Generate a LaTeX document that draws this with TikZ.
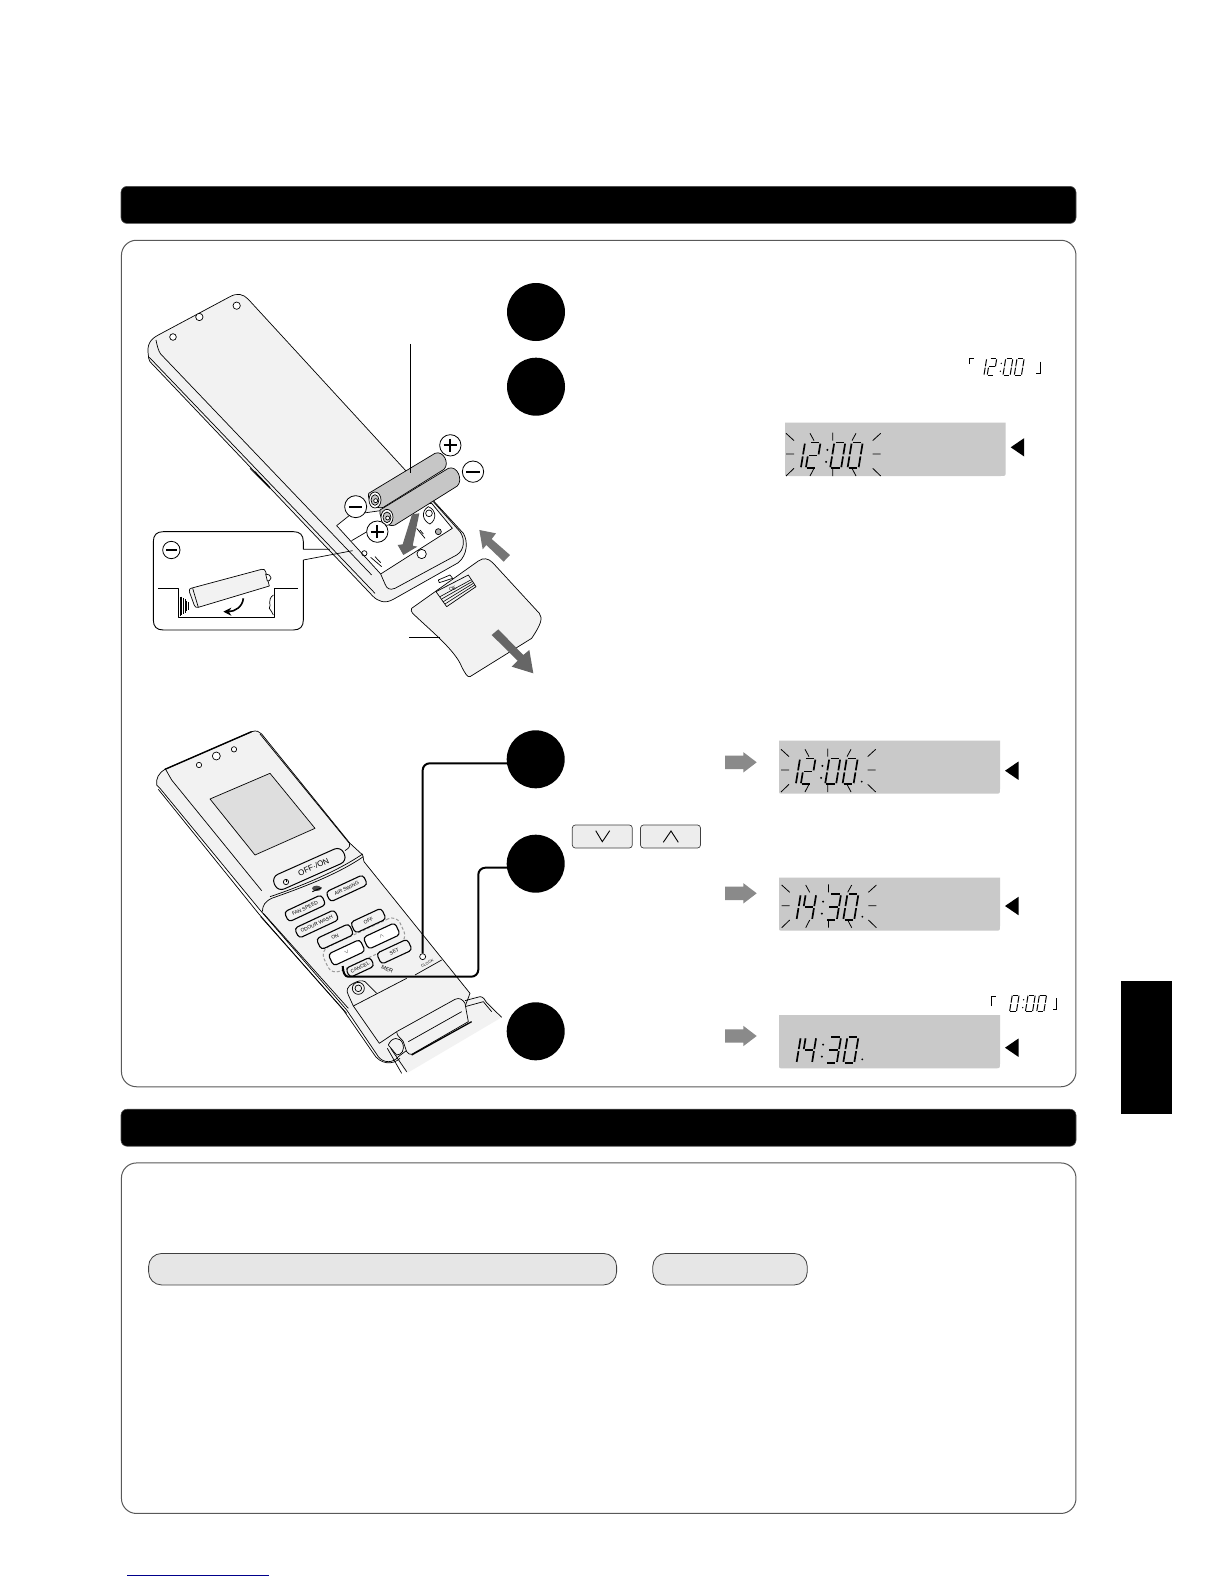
\documentclass[tikz,border=0pt]{standalone}
\usepackage{fontspec}
\usetikzlibrary{arrows.meta}
\setmainfont{Liberation Sans}
\definecolor{lcdbg}{HTML}{C9C9C9}
\definecolor{bodyg}{HTML}{F2F2F2}
\definecolor{darrow}{HTML}{666666}
\definecolor{garrow}{HTML}{8A8A8A}
\definecolor{batg}{HTML}{C6C6C6}
\definecolor{pillg}{HTML}{E6E6E6}
\definecolor{linkblue}{HTML}{00008B}
\tikzset{
  panelbox/.style={draw=black!65,line width=1pt,fill=white,rounded corners=15pt},
  blackbar/.style={fill=black,draw=black!70,line width=.6pt,rounded corners=6pt},
  pillbox/.style={draw=black!75,line width=.8pt,fill=pillg,rounded corners=13pt},
  stepdot/.style={circle,fill=black,minimum size=58pt,inner sep=0pt},
  thin line/.style={line width=.6pt,draw=black},
  body line/.style={line width=.7pt,draw=black,line join=round},
  connector/.style={line width=2pt,draw=black,rounded corners=7pt},
  rmtbtn/.style={draw=black,line width=1.1pt,fill=bodyg,rounded corners=3.5pt,inner sep=0pt,minimum height=11pt,font=\fontsize{5}{5}\selectfont,rotate=25},
  keybtn/.style={draw=black!75,line width=.7pt,fill=black!7,rounded corners=3pt,minimum width=60pt,minimum height=23pt,inner sep=0pt},
  lcdseg/.style={line width=#1,draw=black,line cap=butt},
  lcdseg/.default=1.4pt
}
% seven-segment pieces
\newcommand{\SgA}{\draw[lcdseg=\LW] (.12,0)--(.88,0);}
\newcommand{\SgB}{\draw[lcdseg=\LW] (1,.04)--(1,.46);}
\newcommand{\SgC}{\draw[lcdseg=\LW] (1,.54)--(1,.96);}
\newcommand{\SgD}{\draw[lcdseg=\LW] (.12,1)--(.88,1);}
\newcommand{\SgE}{\draw[lcdseg=\LW] (0,.54)--(0,.96);}
\newcommand{\SgF}{\draw[lcdseg=\LW] (0,.04)--(0,.46);}
\newcommand{\SgG}{\draw[lcdseg=\LW] (.12,.5)--(.88,.5);}
\newcommand{\DgZero}{\SgA\SgB\SgC\SgD\SgE\SgF}
\newcommand{\DgOne}{\SgB\SgC}
\newcommand{\DgTwo}{\SgA\SgB\SgG\SgE\SgD}
\newcommand{\DgThree}{\SgA\SgB\SgG\SgC\SgD}
\newcommand{\DgFour}{\SgF\SgG\SgB\SgC}
\newcommand{\DgNone}{}
% one digit at offset #1 (width #2)
\newcommand{\OneDg}[3]{\begin{scope}[shift={(#1,9.3)},x={(#2pt,0pt)},y={(-4.2pt,-25.6pt)}]#3\end{scope}}
% \TimeLCD{ox}{oy}{scale}{linewidth}{d1}{d2}{d3}{d4}
\newcommand{\TimeLCD}[8]{\begin{scope}[shift={(#1,#2)},scale=#3]
  \def\LW{#4}
  \OneDg{9}{10}{#5}
  \OneDg{24}{10.5}{#6}
  \OneDg{48.3}{11}{#7}
  \OneDg{65.7}{11}{#8}
  \fill (41.4,16.6) circle [radius=1.1];
  \fill (40.1,28.6) circle [radius=1.1];
\end{scope}}
\newcommand{\Rays}[2]{\begin{scope}[shift={(#1,#2)}]
  \draw[line width=.8pt]
   (0,0)--(8,7.3) (24,0)--(28,7.3) (46.7,-.7)--(46.7,7.3) (70,0)--(66,7.3) (94.7,0)--(86.7,7.3)
   (0,20.7)--(8,20.7) (86.7,20.7)--(94.7,20.7)
   (0,42.7)--(8,35) (24,42.7)--(28,35) (46.7,35)--(46.7,42.7) (66,35)--(70,42.7) (86.7,35)--(94.7,42.7);
\end{scope}}
\newcommand{\LCDbox}[4]{\fill[lcdbg] (#1,#2) -- (#3,#2) -- ({#3},{#4-5}) .. controls ({#3},{#4}) .. ({#3-5},{#4}) -- ({#1+4},{#4}) .. controls ({#1},{#4}) .. ({#1},{#4-4}) -- cycle;}
\newcommand{\GArrow}[1]{\fill[garrow] (725,{#1-6.7}) -- (743.3,{#1-6.7}) -- (743.3,{#1-10.2}) -- (756.7,{#1}) -- (743.3,{#1+10.2}) -- (743.3,{#1+6.7}) -- (725,{#1+6.7}) -- cycle;}
\newcommand{\BlkTri}[2]{\fill (#1,#2) -- ({#1+13.5},{#2-9.2}) -- ({#1+13.5},{#2+9.2}) -- cycle;}
% plus / minus badges, given in zoom units
\newcommand{\MinusMark}[3]{\draw[line width=.8pt,fill=white] (#1,#2) circle [radius=#3];\draw[line width=2pt] ({#1-#3*.62},#2) -- ({#1+#3*.62},#2);}
\newcommand{\PlusMark}[3]{\draw[line width=.8pt,fill=white] (#1,#2) circle [radius=#3];\draw[line width=2pt] ({#1-#3*.62},#2) -- ({#1+#3*.62},#2) (#1,{#2-#3*.62}) -- (#1,{#2+#3*.62});}
\begin{document}
\begin{tikzpicture}[x=1pt,y=-1pt]
\useasboundingbox (0,0) rectangle (1224,1584);
\fill[white] (0,0) rectangle (1224,1584);

% panels and bars
\node[blackbar,minimum width=955pt,minimum height=37pt,inner sep=0pt] (bartop) at (598.5,204.9) {};
\node[blackbar,minimum width=955pt,minimum height=37pt,inner sep=0pt] (barlow) at (598.5,1127.7) {};
\node[panelbox,minimum width=954.5pt,minimum height=846.5pt,inner sep=0pt] (panelone) at (598.7,663.5) {};
\node[panelbox,minimum width=954.5pt,minimum height=350.5pt,inner sep=0pt] (paneltwo) at (598.7,1338.2) {};
\node[pillbox,minimum width=468pt,minimum height=31.5pt,inner sep=0pt] (pilla) at (382.6,1269.2) {};
\node[pillbox,minimum width=154.5pt,minimum height=31.5pt,inner sep=0pt] (pillb) at (730,1269.2) {};
\fill[black] (1120.5,980.6) rectangle (1171.5,1113.5);
\draw[linkblue,line width=.9pt] (127,1575.3) -- (269,1575.3);

%================= REMOTE, BACK (coords = zoom 1) =================
\begin{scope}[x=.33333pt,y=-.33333pt,shift={(390,840)}]
 % body
 \draw[body line,fill=bodyg] (55,225) .. controls (50,195) and (60,178) .. (85,165) -- (300,50)
   .. controls (322,38) and (340,42) .. (355,58) -- (1000,760)
   .. controls (1015,785) and (1012,825) .. (985,848) -- (790,958)
   .. controls (765,972) and (745,965) .. (728,948) -- (60,245) .. controls (56,238) and (55,232) .. (55,225) -- cycle;
 \draw[body line] (58,232) -- (735,940);
 \draw[body line] (78,180) .. controls (82,200) and (85,212) .. (92,222) -- (725,885);
 \draw[body line] (360,565) -- (420,625) (375,575) -- (420,622);
 \draw[body line,fill=white] (129,171) circle [radius=10];
 \draw[body line,fill=white] (208,111) circle [radius=11];
 \draw[body line,fill=white] (320,77) circle [radius=11];
 % compartment
 \draw[body line,fill=white] (620,737) -- (660,705) -- (905,670) -- (967,745) -- (752,882) -- cycle;
 \draw[body line] (665,782) -- (745,735);
 \draw[body line] (910,665) -- (990,755) .. controls (1005,775) and (1005,810) .. (980,825) -- (795,925)
    .. controls (778,932) and (770,925) .. (765,912) -- (752,882);
 \draw[body line,fill=white] (875,822) circle [radius=14];
 \draw[body line] (703,820) circle [radius=8];
 \draw[body line] (722,832) -- (755,860) (735,830) -- (752,848);
 \draw[body line,fill=black!30] (925,755) circle [radius=9];
 \draw[body line,fill=white] (895,680) .. controls (870,695) and (880,725) .. (900,732) .. controls (920,720) and (920,690) .. (895,680) -- cycle;
 \draw[body line] (897,700) circle [radius=10];
 \draw[body line] (860,745) -- (885,775) (870,750) -- (880,762);
 % leader to batteries
 \draw[thin line] (841,192) -- (841,578);
 % batteries
 \draw[body line,fill=batg] (716,640) -- (915,520) .. controls (940,510) and (960,550) .. (942,568) -- (760,682) .. controls (740,690) and (710,665) .. (716,640) -- cycle;
 \draw[thin line] (841,520) -- (841,578);
 \draw[body line,fill=batg] (750,690) -- (955,565) .. controls (982,555) and (1000,600) .. (982,618) -- (795,735) .. controls (775,745) and (745,715) .. (750,690) -- cycle;
 \draw[body line,fill=white] (735,660) ellipse [x radius=18,y radius=24];
 \draw[body line,fill=batg] (735,660) ellipse [x radius=12,y radius=16];
 \draw[body line,fill=white] (737,662) circle [radius=6];
 \draw[body line,fill=white] (771,712) ellipse [x radius=18,y radius=24];
 \draw[body line,fill=batg] (771,712) ellipse [x radius=12,y radius=16];
 \draw[body line,fill=white] (773,714) circle [radius=6];
 \PlusMark{961}{496}{32}
 \MinusMark{1029}{575}{32}
 \MinusMark{677}{680}{33}
 \PlusMark{742}{755}{32}
 % down arrow to compartment
 \fill[darrow] (846,703) -- (868,700) -- (848,797) -- (862,800) -- (820,825) -- (803,795) -- (818,793) -- cycle;
 % up-left arrow
 \fill[garrow!85!black] (1048,750) -- (1098,760) -- (1085,777) -- (1140,825) -- (1121,845) -- (1069,795) -- (1058,808) -- cycle;
 % cover
 \draw[body line,fill=bodyg] (845,985) -- (1045,843) .. controls (1060,832) and (1075,835) .. (1088,848) -- (1228,1000)
   .. controls (1238,1015) and (1235,1030) .. (1205,1075) -- (1020,1190)
   .. controls (1012,1192) and (1005,1180) .. (995,1160) .. controls (975,1110) and (900,1050) .. (848,1000) .. controls (843,995) and (843,990) .. (845,985) -- cycle;
 \draw[body line,fill=white] (928,908) -- (925,900) -- (960,885) -- (968,895) -- cycle;
 \draw[body line,fill=bodyg] (918,935) -- (1015,885) -- (1038,920) -- (950,980) -- cycle;
 \draw[line width=.6pt] (930,950) -- (1022,900) (935,957) -- (1026,905) (940,965) -- (1030,910) (945,972) -- (1034,915);
 \node[rotate=27,inner sep=0pt,font=\fontsize{5}{5}\selectfont] (latchtext) at (968,926) {OE};
 \fill[darrow] (1105,1048) -- (1180,1125) -- (1198,1110) -- (1210,1180) -- (1145,1160) -- (1163,1142) -- (1085,1065) -- cycle;
 \draw[thin line] (838,1071) -- (930,1071);
 % inset
 \draw[body line,line width=.9pt,fill=white] (520,808) -- (520,785) .. controls (520,765) and (510,755) .. (490,755) -- (100,755)
   .. controls (80,755) and (70,765) .. (70,785) -- (70,1020) .. controls (70,1040) and (80,1050) .. (100,1050)
   -- (490,1050) .. controls (510,1050) and (520,1040) .. (520,1020) -- (520,840);
 \draw[body line] (520,808) -- (600,808) (520,840) -- (668,812);
 \MinusMark{124}{810}{26}
 \draw[body line,line width=.9pt] (85,925) -- (145,925) -- (145,1012) -- (433,1012) -- (433,925) -- (505,925);
 \draw[line width=.6pt] (150,952) -- (150,1008) (155,950) -- (155,1005) (160,955) -- (160,1002) (165,958) -- (165,998) (170,962) -- (170,994) (175,966) -- (175,990);
 \draw[body line,fill=bodyg] (178,935) .. controls (176,928) and (180,925) .. (186,924) -- (395,868) .. controls (402,866) and (405,870) .. (407,875) -- (418,918) -- (205,982) .. controls (198,984) and (195,980) .. (193,976) -- cycle;
 \draw[body line] (188,925) -- (205,982);
 \draw[body line,fill=white] (407,882) -- (418,885) .. controls (425,890) and (425,898) .. (418,902) -- (412,903) -- cycle;
 \draw[line width=1.6pt,-{Stealth[length=8pt,width=8pt]}] (340,955) .. controls (338,980) and (315,995) .. (280,995);
 \draw[line width=.7pt] (430,945) .. controls (410,960) and (425,975) .. (418,985) .. controls (425,990) and (425,1000) .. (430,1005);
\end{scope}

% step dots
\node[stepdot] (sa) at (536,312) {};
\node[stepdot] (sb) at (536,386.7) {};
\node[stepdot] (sc) at (535.7,759.3) {};
\node[stepdot] (sd) at (535.7,863.7) {};
\node[stepdot] (se) at (535.7,1031.3) {};

%================= REMOTE, FRONT (coords = zoom 2) =================
\begin{scope}[x=.33333pt,y=-.33333pt,shift={(420,2160)}]
 % shaded back
 \fill[bodyg] (800,1060) -- (1085,892) -- (1030,830) -- (960,830) -- (740,980) -- cycle;
 % body
 \draw[body line,fill=bodyg] (50,195) .. controls (48,175) and (55,160) .. (75,148) -- (335,35) .. controls (350,30) and (358,35) .. (365,42)
   -- (630,370) -- (668,405) -- (672,425) -- (990,820) -- (975,860) -- (775,1010) .. controls (760,1030) and (730,1030) .. (715,1010) -- (620,870) -- (360,570) -- (60,205) .. controls (55,200) and (52,198) .. (50,195) -- cycle;
 \draw[line width=1.4pt] (75,148) -- (335,35);
 \draw[body line] (55,208) -- (355,580) -- (610,870) -- (700,1000) .. controls (720,1035) and (760,1035) .. (780,1015);
 \draw[body line] (370,580) -- (625,865) (362,590) -- (620,880);
 \draw[body line,fill=white] (177,135) circle [radius=8];
 \draw[body line,fill=white] (229,108) circle [radius=12];
 \draw[body line,fill=white] (282,88) circle [radius=8];
 % upper panel
 \draw[body line] (78,150) -- (95,180) -- (365,512) (360,42) -- (628,370) .. controls (632,380) and (625,385) .. (615,392);
 \draw[body line,fill=black!13] (210,237) -- (390,160) -- (525,325) -- (345,405) -- cycle;
 % hinge curves
 \draw[body line] (367,575) .. controls (368,555) and (375,545) .. (395,535) .. controls (480,505) and (590,465) .. (670,410);
 \draw[body line] (390,530) .. controls (480,500) and (590,455) .. (668,402);
 \node[draw=black,line width=1pt,fill=bodyg,rounded corners=7pt,minimum width=76pt,minimum height=16pt,inner sep=0pt,rotate=24,font=\fontsize{8}{9}\selectfont] (offon) at (508,447) {\hspace*{9pt}OFF·/ON};
 \draw[line width=.7pt] (438,486) circle [radius=8];
 \draw[line width=.7pt] (438,478) -- (438,486);
 \fill[black!70] (530,505) ellipse [x radius=14,y radius=8];
 \draw[line width=.9pt] (517,515) -- (545,503);
 % keypad buttons
 \node[draw=black!40,line width=1pt,dash pattern=on 3pt off 2pt,rounded corners=9pt,minimum width=84pt,minimum height=27pt,rotate=25] (dashring) at (672,675) {};
 \node[rmtbtn,minimum width=41pt] (airswing) at (620,505) {AIR SWING};
 \node[rmtbtn,minimum width=41pt] (fanspeed) at (495,565) {FAN SPEED};
 \node[rmtbtn,minimum width=44pt] (odour) at (530,612) {ODOUR WASH};
 \node[rmtbtn,minimum width=34pt,minimum height=12pt] (offbtn) at (685,602) {OFF};
 \node[rmtbtn,minimum width=36pt,minimum height=12pt] (onbtn) at (585,650) {ON};
 \node[rmtbtn,minimum width=34pt,minimum height=12pt] (setbtn) at (763,695) {SET};
 \node[rmtbtn,minimum width=35pt,minimum height=13pt,fill=white] (upbtn) at (725,648) {$\wedge$};
 \node[rmtbtn,minimum width=35pt,minimum height=13pt,fill=white] (downbtn) at (620,698) {$\vee$};
 \node[rmtbtn,minimum width=27pt,minimum height=10pt] (cancelbtn) at (660,742) {CANCEL};
 \node[rotate=-25,inner sep=0pt,font=\fontsize{5.5}{6}\selectfont] (timertext) at (742,748) {MER};
 \node[draw=black,line width=.7pt,fill=white,circle,minimum size=6pt,inner sep=0pt] (clockbtn) at (848,710) {};
 \node[rotate=25,inner sep=0pt,font=\fontsize{3.8}{4}\selectfont] (clocktext) at (862,730) {CLOCK};
 \draw[body line] (825,765) -- (905,720);
 % lock
 \draw[body line,fill=bodyg] (710,820) -- (675,785) .. controls (665,780) and (655,782) .. (640,790) .. controls (620,800) and (618,812) .. (625,825) -- (640,858);
 \draw[body line] (655,805) circle [radius=18];
 \draw[body line] (655,805) circle [radius=10];
 \draw[body line] (640,858) -- (800,775);
 \draw[body line] (640,858) -- (718,970) -- (770,935);
 % lid
 \draw[body line] (975,842) -- (1020,830) .. controls (1030,830) and (1035,840) .. (1040,848) -- (1085,892);
 \draw[body line] (975,860) -- (1030,845) -- (1055,875);
 \draw[body line,fill=bodyg] (770,935) -- (945,838) .. controls (958,832) and (968,838) .. (975,850) -- (985,905) -- (815,1003) .. controls (808,1005) and (805,1000) .. (800,995) -- (790,965) .. controls (785,955) and (770,950) .. (770,935) -- cycle;
 \draw[body line] (805,965) -- (965,875);
 \draw[line width=1.3pt] (815,1005) -- (995,905);
 \draw[body line,fill=bodyg] (745,975) .. controls (755,950) and (780,950) .. (788,970) .. controls (795,990) and (785,1005) .. (770,1005) -- cycle;
 \draw[body line] (742,985) -- (785,1060) (752,985) -- (800,1055);
\end{scope}

% connectors
\draw[connector] ([yshift=-4pt]sc.center) -| (clockbtn.north);
\coordinate (downtip) at (342.7,966);
\draw[connector] ([yshift=-4pt]sd.center) -| (478.3,976.7) -- (355,976.7) .. controls (345,976.7) and (342.7,972) .. (downtip);

% small top clock
\draw[line width=1pt] (969,364) -- (969,358.3) -- (974,358.3);
\draw[line width=1pt] (1040.7,361.7) -- (1040.7,373.3) -- (1036,373.3);
\TimeLCD{974.3}{352.6}{.65}{1pt}{\DgOne}{\DgTwo}{\DgZero}{\DgZero}
\draw[line width=1pt] (991.7,1006) -- (991.7,996) -- (995.7,996);
\draw[line width=1pt] (1056.7,998.3) -- (1056.7,1009.3) -- (1052.7,1009.3);
\TimeLCD{996.7}{989}{.65}{1pt}{\DgNone}{\DgZero}{\DgZero}{\DgZero}

% displays
\LCDbox{785}{422.7}{1005.7}{476}
\Rays{786}{433.3}
\TimeLCD{786}{433.3}{1}{1.7pt}{\DgOne}{\DgTwo}{\DgZero}{\DgZero}
\BlkTri{1010.7}{447.3}

\GArrow{762.3}
\LCDbox{779}{740.7}{1000}{793.7}
\Rays{781}{749.3}
\TimeLCD{781}{749.3}{1}{1.7pt}{\DgOne}{\DgTwo}{\DgZero}{\DgZero}
\fill (861.7,781.6) circle [radius=1];
\BlkTri{1005}{770.7}

\GArrow{893.3}
\LCDbox{779}{877.7}{1000}{930.7}
\Rays{781.7}{885}
\TimeLCD{781.7}{885}{1}{1.7pt}{\DgOne}{\DgFour}{\DgThree}{\DgZero}
\fill (862.3,916.7) circle [radius=1];
\BlkTri{1005}{906}

\GArrow{1036}
\LCDbox{779}{1015}{1000}{1068.3}
\TimeLCD{781.7}{1028}{1}{1.7pt}{\DgOne}{\DgFour}{\DgThree}{\DgZero}
\fill (862.3,1059.3) circle [radius=1];
\BlkTri{1005}{1047.7}

% arrow keys
\node[keybtn] (keydown) at (602.3,836.5) {};
\draw[line width=.9pt] (595.7,830.7) -- (602.3,841.7) -- (609.7,830.7);
\node[keybtn] (keyup) at (670.5,836.5) {};
\draw[line width=.9pt] (663.3,842.3) -- (671,831) -- (678.3,842.3);
\end{tikzpicture}
\end{document}
